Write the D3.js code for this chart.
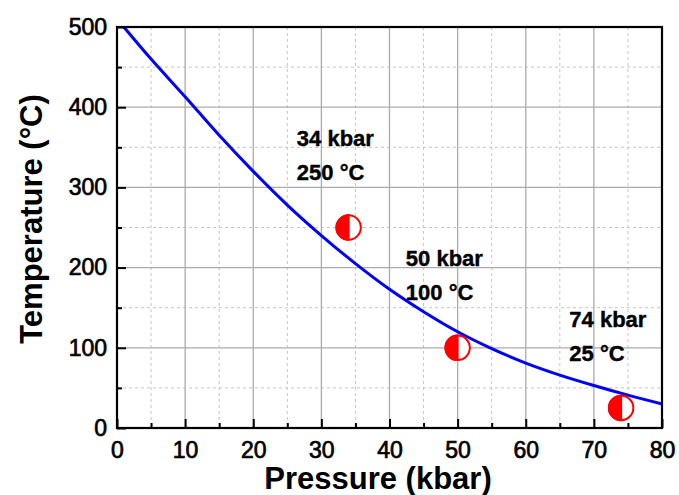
<!DOCTYPE html>
<html>
<head>
<meta charset="utf-8">
<script src="https://cdn.jsdelivr.net/npm/d3@7"></script>
<style>
  body { margin: 0; background: #fff; }
  svg { display: block; font-family: "Liberation Sans", Arial, sans-serif; }
</style>
</head>
<body>
<svg id="chart" width="679" height="495"></svg>
<script>
// curve (pressure kbar, temperature C)
var curveP = [1, 5, 10, 15, 20, 25, 30, 35, 40, 45, 50, 55, 60, 65, 70, 75, 80];
var curveT = [500, 460, 413, 365, 320, 278, 240, 205, 173, 145, 120, 99, 81, 66, 53, 41, 30];

// measured points
var pointP = [34, 50, 74];
var pointT = [250, 100, 25];

// annotation text, anchored in data units
var noteLine1 = ["34 kbar", "50 kbar", "74 kbar"];
var noteLine2 = ["250 °C", "100 °C", "25 °C"];
var noteP = [26.4, 42.4, 66.4];
var noteT = [352, 201.5, 126];

var xTicks = [0, 10, 20, 30, 40, 50, 60, 70, 80];
var xMinor = [5, 15, 25, 35, 45, 55, 65, 75];
var yTicks = [0, 100, 200, 300, 400, 500];
var yMinor = [50, 150, 250, 350, 450];

var translate = function(x, y) { return "translate(" + x + "," + y + ")"; };

var margin = { top: 27, right: 17, bottom: 67, left: 117 };
var svg = d3.select("#chart");
var plotWidth = 679 - margin.left - margin.right;
var plotHeight = 495 - margin.top - margin.bottom;

var x = d3.scaleLinear().domain([0, 80]).range([0, plotWidth]);
var y = d3.scaleLinear().domain([0, 500]).range([plotHeight, 0]);

var plot = svg.append("g").attr("transform", translate(margin.left, margin.top));

// grid: dashed minor, solid major
plot.selectAll(".gxm").data(xMinor).enter().append("line")
  .attr("x1", d => x(d)).attr("x2", d => x(d))
  .attr("y1", 0).attr("y2", plotHeight)
  .attr("stroke", "#c4c4c4").attr("stroke-width", 1).attr("stroke-dasharray", "3,3");
plot.selectAll(".gym").data(yMinor).enter().append("line")
  .attr("x1", 0).attr("x2", plotWidth)
  .attr("y1", d => y(d)).attr("y2", d => y(d))
  .attr("stroke", "#c4c4c4").attr("stroke-width", 1).attr("stroke-dasharray", "3,3");
plot.selectAll(".gx").data(xTicks).enter().append("line")
  .attr("x1", d => x(d)).attr("x2", d => x(d))
  .attr("y1", 0).attr("y2", plotHeight)
  .attr("stroke", "#ababab").attr("stroke-width", 1.3);
plot.selectAll(".gy").data(yTicks).enter().append("line")
  .attr("x1", 0).attr("x2", plotWidth)
  .attr("y1", d => y(d)).attr("y2", d => y(d))
  .attr("stroke", "#ababab").attr("stroke-width", 1.3);

// curve
var line = d3.line()
  .x(d => x(d[0]))
  .y(d => y(d[1]))
  .curve(d3.curveCatmullRom);
plot.append("path")
  .datum(curveP.map((p, i) => [p, curveT[i]]))
  .attr("d", line)
  .attr("fill", "none")
  .attr("stroke", "#0000ff")
  .attr("stroke-width", 3);

// half-filled markers
var r = 12.2;
var markers = plot.selectAll(".marker")
  .data(pointP.map((p, i) => [p, pointT[i]]))
  .enter().append("g")
  .attr("transform", d => translate(x(d[0]), y(d[1])));
markers.append("circle").attr("r", r)
  .attr("fill", "#fff").attr("stroke", "#ff0000").attr("stroke-width", 2);
markers.append("path")
  .attr("d", "M0," + (-r) + "A" + r + "," + r + " 0 0,0 0," + r + "Z")
  .attr("fill", "#ff0000").attr("stroke", "#ff0000").attr("stroke-width", 2);

// annotations
var notes = plot.selectAll(".note")
  .data(noteP.map((p, i) => i))
  .enter().append("text")
  .attr("x", i => x(noteP[i]))
  .attr("y", i => y(noteT[i]))
  .attr("stroke", "#000").attr("stroke-width", 0.4)
  .style("font-size", "22px")
  .style("font-weight", "bold");
notes.append("tspan").text(i => noteLine1[i]);
notes.append("tspan").attr("x", i => x(noteP[i])).attr("dy", 34).text(i => noteLine2[i]);

// frame
plot.append("rect")
  .attr("width", plotWidth).attr("height", plotHeight)
  .attr("fill", "none").attr("stroke", "#000").attr("stroke-width", 2.2);

// axes
var gx = plot.append("g").attr("transform", translate(0, plotHeight))
  .call(d3.axisBottom(x).tickValues(xTicks).tickSizeInner(-9).tickSizeOuter(0).tickPadding(14));
var gxm = plot.append("g").attr("transform", translate(0, plotHeight))
  .call(d3.axisBottom(x).tickValues(xMinor).tickSizeInner(-5).tickSizeOuter(0).tickFormat(""));
var gy = plot.append("g")
  .call(d3.axisLeft(y).tickValues(yTicks).tickSizeInner(-9).tickSizeOuter(0).tickPadding(10));
var gym = plot.append("g")
  .call(d3.axisLeft(y).tickValues(yMinor).tickSizeInner(-5).tickSizeOuter(0).tickFormat(""));

[gx, gxm, gy, gym].forEach(function(g) {
  g.select(".domain").remove();
  g.selectAll(".tick line").attr("stroke", "#000").attr("stroke-width", 2);
  g.selectAll("text")
    .attr("fill", "#000")
    .attr("stroke", "#000").attr("stroke-width", 0.7)
    .style("font-family", "'Liberation Sans', Arial, sans-serif")
    .style("font-size", "23px");
});

// axis titles
svg.append("text")
  .attr("x", 378).attr("y", 489)
  .attr("text-anchor", "middle")
  .style("font-size", "31px").style("font-weight", "bold")
  .text("Pressure (kbar)");

svg.append("text")
  .attr("transform", translate(42, 219) + " rotate(-90)")
  .attr("text-anchor", "middle")
  .style("font-size", "31px").style("font-weight", "bold")
  .text("Temperature (°C)");
</script>
</body>
</html>
